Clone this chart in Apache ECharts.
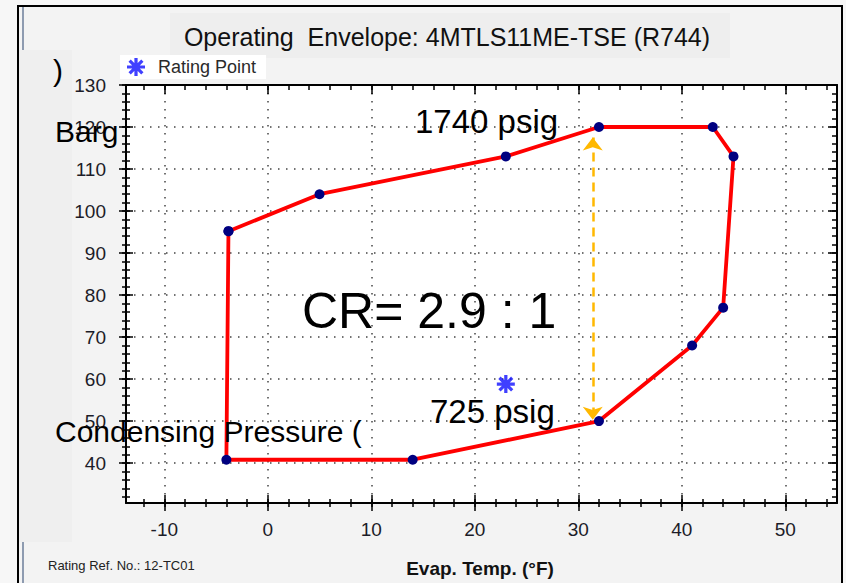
<!DOCTYPE html>
<html>
<head>
<meta charset="utf-8">
<script src="https://cdn.jsdelivr.net/npm/echarts@6/dist/echarts.min.js"></script>
<style>
  html, body { margin: 0; padding: 0; background: #f7f7f7; }
  #wrap { position: relative; width: 846px; height: 583px; overflow: hidden; }
  .bg { position: absolute; }
  #chart { position: absolute; left: 0; top: 0; width: 846px; height: 583px; }
</style>
</head>
<body>
<div id="wrap">
  <div class="bg" style="left:17px;top:5px;width:822px;height:600px;background:#f3f3f3;border-left:2px solid #000;border-top:2px solid #000;border-right:2px solid #000;"></div>
  <div class="bg" style="left:22px;top:7px;width:2px;height:43px;background:#8e9bb0;"></div>
  <div class="bg" style="left:22px;top:542px;width:2px;height:41px;background:#8e9bb0;"></div>
  <div class="bg" style="left:19px;top:50px;width:53px;height:492px;background:#efefef;"></div>
  <div class="bg" style="left:170px;top:13px;width:560px;height:45px;background:#eeeeee;"></div>
  <div id="chart"></div>
</div>
<script>
// 数据
const xMin = -13.7, xMax = 55;
const yMin = 30.5, yMax = 130;
const xMajor = [-10, 0, 10, 20, 30, 40, 50];
const xMinor = [-12, -10, -8, -6, -4, -2, 0, 2, 4, 6, 8, 10, 12, 14, 16, 18, 20, 22, 24, 26, 28, 30, 32, 34, 36, 38, 40, 42, 44, 46, 48, 50, 52, 54];
const yMajor = [40, 50, 60, 70, 80, 90, 100, 110, 120, 130];
const yMinor = [32, 34, 36, 38, 40, 42, 44, 46, 48, 50, 52, 54, 56, 58, 60, 62, 64, 66, 68, 70, 72, 74, 76, 78, 80, 82, 84, 86, 88, 90, 92, 94, 96, 98, 100, 102, 104, 106, 108, 110, 112, 114, 116, 118, 120, 122, 124, 126, 128, 130];

// 包络线 (蒸发温度 °F, 冷凝压力 barg)
const envTemp = [-3.8, 5, 23, 32, 43, 45, 44, 41, 32, 14, -4, -3.8];
const envPres = [95.2, 104, 113, 120, 120, 113, 77, 68, 50, 40.8, 40.8, 95.2];

// 额定点
const ratingTemp = [23];
const ratingPres = [58.8];

// 压比箭头
const arrowTemp = 31.4;
const arrowFrom = 117.5;
const arrowTo = 50.3;

const font = "'Liberation Sans', Arial, sans-serif";
const star = "path://M8.2,0h3.6v20h-3.6z M0,8.2h20v3.6h-20z M4.2,1.66L18.34,15.8L15.8,18.34L1.66,4.2z M18.34,4.2L4.2,18.34L1.66,15.8L15.8,1.66z";

function tickAxis(pos, values, len, offset, inside, showLine) {
  return {
    type: "value",
    position: pos,
    min: pos === "bottom" || pos === "top" ? xMin : yMin,
    max: pos === "bottom" || pos === "top" ? xMax : yMax,
    offset: offset,
    axisLine: { show: showLine, onZero: false, lineStyle: { color: "#000", width: 2 } },
    axisTick: { show: true, inside: inside, length: len, customValues: values, lineStyle: { color: "#000", width: 1.5 } },
    axisLabel: { show: false },
    splitLine: { show: false },
  };
}

const gridLine = { show: true, lineStyle: { color: "#444", width: 1.5, type: [1.5, 6.5] } };

let myChart = echarts.init(document.getElementById("chart"), null, { renderer: "svg" });
myChart.setOption({
  animation: false,
  backgroundColor: "transparent",
  grid: { left: 126, right: 9, top: 85, bottom: 80, show: true, backgroundColor: "#fff", borderWidth: 0 },
  legend: {
    left: 120,
    top: 55,
    padding: [3, 10, 3, 7],
    backgroundColor: "#fff",
    itemWidth: 34,
    itemHeight: 18,
    data: [{ name: "Rating Point", icon: star, itemStyle: { color: "#1010ff" } }],
    textStyle: { fontSize: 18, color: "#2a2a2a", fontFamily: font },
  },
  xAxis: [
    {
      type: "value",
      position: "bottom",
      min: xMin,
      max: xMax,
      axisLine: { show: true, onZero: false, lineStyle: { color: "#000", width: 2 } },
      axisTick: { show: false, customValues: xMajor },
      axisLabel: { customValues: xMajor, margin: 17, fontSize: 19, color: "#1c1c28", fontFamily: font },
      splitLine: gridLine,
    },
    tickAxis("bottom", xMajor, 16, -8, false, false),
    tickAxis("bottom", xMinor, 8, -4, false, false),
    tickAxis("top", xMinor, 5, 0, true, true),
    tickAxis("top", xMajor, 9, 0, true, false),
  ],
  yAxis: [
    {
      type: "value",
      position: "left",
      min: yMin,
      max: yMax,
      axisLine: { show: true, onZero: false, lineStyle: { color: "#000", width: 2 } },
      axisTick: { show: false, customValues: yMajor },
      axisLabel: { customValues: yMajor, margin: 20, fontSize: 19, color: "#1c1c28", fontFamily: font },
      splitLine: gridLine,
    },
    tickAxis("left", yMajor, 14, -7, false, false),
    tickAxis("left", yMinor, 8, -4, false, false),
    tickAxis("right", yMinor, 5, 0, true, true),
    tickAxis("right", yMajor, 9, 0, true, false),
  ],
  series: [
    {
      name: "Envelope",
      type: "line",
      data: envTemp.map((t, i) => [t, envPres[i]]),
      symbol: "circle",
      symbolSize: 10,
      showAllSymbol: true,
      lineStyle: { color: "#ff0000", width: 3.8 },
      itemStyle: { color: "#000080" },
      z: 3,
    },
    {
      name: "Rating Point",
      type: "scatter",
      data: ratingTemp.map((t, i) => [t, ratingPres[i]]),
      symbol: star,
      symbolSize: 18,
      itemStyle: { color: "#1010ff" },
      z: 4,
    },
    {
      name: "CR",
      type: "line",
      data: [],
      markLine: {
        silent: true,
        symbol: ["arrow", "arrow"],
        symbolSize: [15, 13],
        label: { show: false },
        lineStyle: { color: "#ffb800", width: 2.5, type: [9, 6] },
        data: [[{ coord: [arrowTemp, arrowFrom] }, { coord: [arrowTemp, arrowTo] }]],
      },
    },
  ],
  graphic: [
    { type: "text", x: 447, y: 37, style: { text: "Operating  Envelope: 4MTLS11ME-TSE (R744)", font: "25px " + font, fill: "#111", align: "center", verticalAlign: "middle" } },
    { type: "text", x: 48, y: 565, style: { text: "Rating Ref. No.: 12-TC01", font: "13px " + font, fill: "#222", verticalAlign: "middle" } },
    { type: "text", x: 480, y: 568, style: { text: "Evap. Temp. (°F)", font: "bold 19px " + font, fill: "#111", align: "center", verticalAlign: "middle" } },
    { type: "text", x: 53, y: 70, z: 100, style: { text: ")", font: "30px " + font, fill: "#000", verticalAlign: "middle" } },
    { type: "text", x: 55, y: 131, z: 100, style: { text: "Barg", font: "30px " + font, fill: "#000", verticalAlign: "middle" } },
    { type: "text", x: 55, y: 431, z: 100, style: { text: "Condensing Pressure (", font: "30px " + font, fill: "#000", verticalAlign: "middle" } },
    { type: "text", x: 415, y: 121, z: 100, style: { text: "1740 psig", font: "33px " + font, fill: "#000", verticalAlign: "middle" } },
    { type: "text", x: 430, y: 411, z: 100, style: { text: "725 psig", font: "33px " + font, fill: "#000", verticalAlign: "middle" } },
    { type: "text", x: 302, y: 311, z: 100, style: { text: "CR= 2.9 : 1", font: "50px " + font, fill: "#000", verticalAlign: "middle" } },
  ],
});
</script>
</body>
</html>
